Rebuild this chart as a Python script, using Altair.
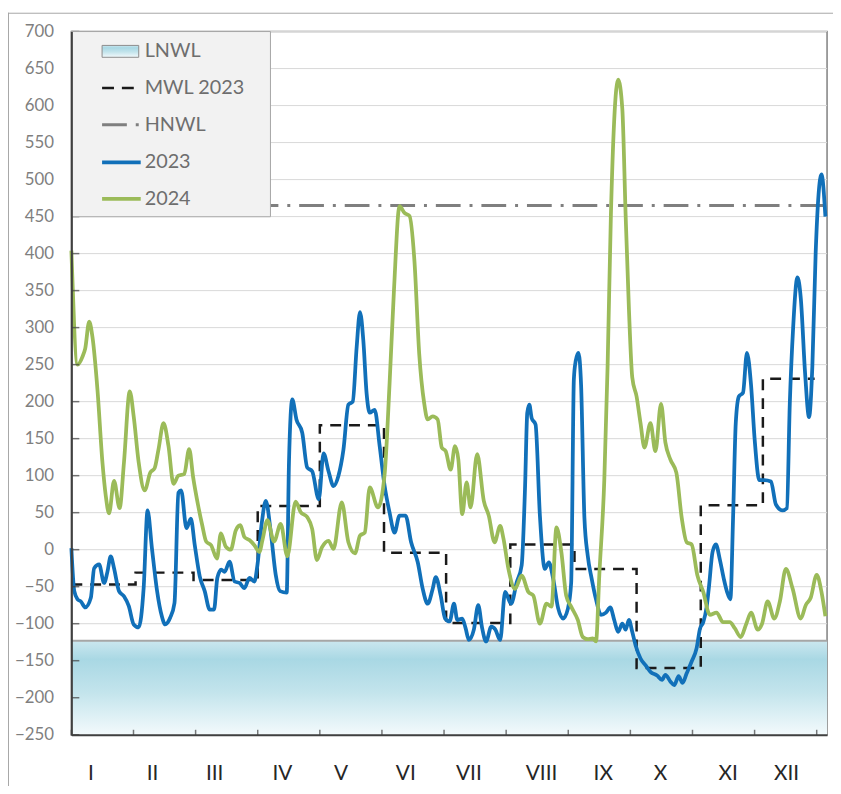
import altair as alt
import pandas as pd

# ---------------- data ----------------
days_2023 = [0, 1.4, 3, 4.6, 6.7, 9.4, 11, 13.4, 15.8, 17.4, 19, 20.6, 23, 25.4, 27.7, 30.1, 32.5, 34.9,
             36.8, 38.9, 41.3, 43.7, 45.3, 47.7, 49.8, 51.7, 53, 55.6, 57.7, 59.6, 62, 64.4, 66.8, 68.9,
             70.5, 72.4, 74, 76.4, 78.8, 81.2, 83.6, 86, 88.4, 89.9, 92, 93.9, 96.3, 98.7, 100.8, 104,
             105.1, 106.7, 108.7, 111.5, 113.9, 116.3, 119.5, 121.8, 124.2, 126.6, 129, 131.4, 133.8,
             135.9, 137.8, 139.4, 141, 142.6, 144.1, 146.5, 148.9, 151.3, 153.7, 156.1, 158.5, 161.4,
             164.1, 167.3, 169.7, 172.1, 174.5, 176, 178.4, 180.5, 182.7, 184.8, 186.4, 188.8, 190.4,
             192, 194.4, 196.5, 198.4, 200.3, 202.8, 204.8, 207.1, 209.5, 212.4, 215.1, 217.5, 219.1,
             220.2, 221.2, 222.3, 224.2, 226.3, 228.7, 230.6, 232.7, 235.1, 237.5, 239.8, 241.4, 242.7,
             243.6, 244.9, 246.2, 247.8, 249.4, 251.3, 253.4, 255.8, 258.2, 260.3, 262.2, 264.1, 266.1,
             267.7, 269.3, 270.9, 272.5, 274.9, 277.3, 279.7, 282.9, 285.3, 286.9, 289.3, 291.2, 293.3,
             295.2, 297.2, 299.6, 302, 303.6, 305.2, 306.8, 308, 309.7, 311.3, 313.2, 315.1, 316.7,
             318.3, 319.6, 320.9, 322.4, 324.4, 326.3, 328.3, 330, 332.3, 334.7, 337.9, 340.3, 343.5,
             345.6, 347, 348.6, 350.7, 352.3, 354.4, 356.3, 357.9, 359.5, 362.3, 364.2]
vals_2023 = [2, -56, -67, -70, -78, -65, -25, -20, -45, -30, -9, -25, -56, -63, -76, -101, -105, -52,
             53, 2, -54, -90, -101, -92, -72, 77, 80, 29, 42, 6, -36, -56, -81, -81,
             -38, -27, -30, -16, -43, -45, -52, -38, -43, -20, 37, 66, 24, -34, -56, -58,
             118, 203, 176, 158, 111, 106, 68, 130, 106, 86, 100, 135, 196,
             200, 274, 321, 283, 211, 185, 189, 140, 86, 50, 23, 46, 46,
             10, -17, -53, -73, -53, -37, -62, -93, -97, -73, -95, -93, -106,
             -122, -108, -75, -106, -124, -104, -108, -122, -57, -73, -44, -21, 82,
             185, 196, 178, 169, 46, -26, -17, -39, -79, -93, -80, -45, 230,
             255, 266, 222, 43, -8, -39, -67, -88, -85, -78, -95, -111, -100,
             -108, -95, -111, -129, -147, -156, -165, -170, -176, -169, -178, -183, -171,
             -180, -167, -151, -133, -107, -98, -78, -49, -3, 7, -13, -39, -57,
             -67, 43, 171, 207, 212, 266, 222, 150, 94, 94, 92, 61, 53,
             56, 197, 299, 368, 340, 238, 179, 248, 401, 507, 450]

days_2024 = [0, 3, 5.4, 6.7, 8.6, 10.2, 12.6, 15, 16.6, 18.2, 20.6, 23.3, 25.4, 28.2, 30.1, 32.5, 35.4,
             38.1, 40.2, 42.1, 44.5, 46.9, 49.3, 51.7, 54.5, 56.9, 58.8, 61.2, 63.2, 65.1, 67.5, 70.3,
             72.2, 74.6, 77, 79.4, 81.6, 83.6, 86, 88.4, 90.8, 92.3, 94.7, 97.9, 101.1, 104.3, 108.3,
             110.7, 113.9, 116.3, 118.6, 121, 124.2, 126.6, 130.6, 133.8, 137, 139.4, 141.7, 144.1,
             148.1, 151.3, 153.7, 155.8, 158.5, 160.9, 163.3, 165.7, 168, 170.4, 172.1, 174.5, 176.9,
             178.9, 180.8, 183.2, 185.3, 186.9, 188.8, 190.9, 192.8, 196, 199.2, 201.6, 204.4, 207.1,
             208.7, 211.1, 214.3, 217.5, 220.7, 223.1, 226.3, 229.5, 231.9, 234.3, 236.7, 239, 241.4,
             244.6, 247, 249.4, 251.8, 253.4, 255, 257.4, 259, 260.6, 262.2, 264.1, 266.1, 267.7,
             269.3, 270.9, 273, 274.9, 276.8, 279.7, 282.1, 284.8, 286.9, 289.3, 292.2, 294.8, 297.2,
             299.6, 302.3, 305.2, 308.4, 311.6, 314.8, 318, 320.4, 323.3, 326, 328.3, 331.5, 333.6,
             336.3, 339.5, 342.2, 345.1, 348.3, 352.3, 354.7, 357.1, 360, 362.3, 364.2]
vals_2024 = [404, 250, 261, 272, 308, 287, 216, 118, 73, 49, 93, 56, 118, 214, 180, 118, 80,
             104, 110, 136, 171, 140, 89, 100, 102, 136, 98, 60, 33, 11, 6, -12,
             22, 4, 0, 26, 33, 17, 13, 6, -3, 13, 40, 11, 35, -9, 65,
             51, 44, 28, -14, 3, 12, 1, 64, 10, -5, 19, 23, 84,
             57, 102, 225, 350, 464, 455, 451, 390, 265, 198, 176, 180, 176,
             138, 133, 108, 140, 122, 48, 91, 57, 129, 66, 46, 10, 32,
             15, -26, -53, -35, -57, -62, -100, -73, -77, 30, -4, -62, -77,
             -95, -118, -121, -120, -124, -34, 94, 248, 453, 581, 635, 596, 453,
             325, 233, 207, 171, 138, 171, 133, 197, 145, 122, 104, 43, 10,
             7, -34, -57, -88, -85, -98, -98, -106, -118, -100, -85, -108, -100,
             -70, -93, -70, -26, -52, -93, -75, -65, -34, -57, -90]

mwl_days = [0, 31, 59, 90, 120, 151, 181, 212, 243, 273, 304, 334, 359]
mwl_2023 = [-47, -31, -41, 59, 168, -4, -99, 7, -26, -160, 60, 231, 231]

hnwl = 465
lnwl = -123
y_bottom = -250
y_top = 700
x_end = 365

month_labels = ["I", "II", "III", "IV", "V", "VI", "VII", "VIII", "IX", "X", "XI", "XII"]
month_label_pos = [9.4, 39.2, 69.2, 101.9, 130.3, 161.5, 192, 227.1, 256.9, 284.5, 317.2, 345.4]

y_ticks = list(range(-250, 701, 50))
x_ticks = list(range(0, 361, 30))

legend_names = ["LNWL", "MWL 2023", "HNWL", "2023", "2024"]

# ---------------- styling ----------------
W, H = 763, 710
FONT = "Lato"
BLUE = "#1170b9"
GREEN = "#9bbb59"

x_scale = alt.Scale(domain=[0, x_end], nice=False, zero=False)
y_scale = alt.Scale(domain=[y_bottom, y_top], nice=False, zero=False)

x_axis = alt.Axis(values=x_ticks, labels=False, ticks=False, grid=False, title=None,
                  domainColor="#404040", domainWidth=2, zindex=1)
y_axis = alt.Axis(values=y_ticks, ticks=False, grid=False, title=None,
                  domainColor="#404040", domainWidth=2, zindex=1,
                  labelFont=FONT, labelFontSize=17, labelColor="#7f7f7f", labelPadding=18)

gradient = alt.Gradient(
    gradient="linear",
    stops=[alt.GradientStop(color="#cbe7ef", offset=0),
           alt.GradientStop(color="#a9d8e4", offset=0.2),
           alt.GradientStop(color="#c3e4ec", offset=0.55),
           alt.GradientStop(color="#f3fafc", offset=1)],
    x1=0, x2=0, y1=0, y2=1)

df23 = pd.DataFrame({"d": days_2023, "v": vals_2023})
df24 = pd.DataFrame({"d": days_2024, "v": vals_2024})
dfm = pd.DataFrame({"d": mwl_days, "v": mwl_2023})
dfgrid = pd.DataFrame({"v": y_ticks})
dfxt = pd.DataFrame({"d": x_ticks})
dfband = pd.DataFrame({"d": [0], "d2": [x_end], "v": [y_bottom], "v2": [lnwl]})
dfl = pd.DataFrame({"d": [0], "d2": [x_end], "v": [lnwl]})
dfh = pd.DataFrame({"d": [0], "d2": [x_end], "v": [hnwl]})
dfmonths = pd.DataFrame({"d": month_label_pos, "label": month_labels})
one = pd.DataFrame({"k": [0]})


def X(f="d"):
    return alt.X(f"{f}:Q", scale=x_scale, axis=x_axis)


def Y(f="v"):
    return alt.Y(f"{f}:Q", scale=y_scale, axis=y_axis)


grid = alt.Chart(dfgrid).mark_rule(color="#d9d9d9", strokeWidth=1).encode(
    y=Y(), x=alt.value(0), x2=alt.value(W))

band = alt.Chart(dfband).mark_rect(color=gradient).encode(x=X(), x2="d2:Q", y=Y(), y2="v2:Q")
band_edge = alt.Chart(dfl).mark_rule(color="#a6a6a6", strokeWidth=2).encode(x=X(), x2="d2:Q", y=Y())

mwl = alt.Chart(dfm).mark_line(color="#1a1a1a", strokeWidth=2.5, strokeDash=[11, 8],
                               interpolate="step-after").encode(x=X(), y=Y())
hn = alt.Chart(dfh).mark_rule(color="#7f7f7f", strokeWidth=3, strokeDash=[25, 9, 3, 9]).encode(
    x=X(), x2="d2:Q", y=Y())

line23 = alt.Chart(df23).mark_line(color=BLUE, strokeWidth=3.8, interpolate="monotone").encode(x=X(), y=Y())
line24 = alt.Chart(df24).mark_line(color=GREEN, strokeWidth=3.8, interpolate="monotone").encode(x=X(), y=Y())

yt = alt.Chart(dfgrid).mark_tick(orient="horizontal", size=8, thickness=1.5, color="#404040").encode(
    y=Y(), x=alt.value(4))
xt = alt.Chart(dfxt).mark_tick(orient="vertical", size=6, thickness=1.5, color="#404040").encode(
    x=X(), y=alt.value(H - 2))

months = alt.Chart(dfmonths).mark_text(
    font=FONT, fontSize=21, color="#262626", baseline="middle", align="center").encode(
    x=X(), y=alt.value(H + 40), text="label:N")

# ---------------- legend ----------------
leg_box = alt.Chart(one).mark_rect(fill="#f2f2f2", stroke="#a6a6a6", strokeWidth=1).encode(
    x=alt.value(0), x2=alt.value(201), y=alt.value(0), y2=alt.value(187))
row_y = [20, 57, 94, 132, 169]
leg_sw = alt.Chart(one).mark_rect(color=gradient, stroke="#8c8c8c", strokeWidth=1).encode(
    x=alt.value(31), x2=alt.value(68), y=alt.value(row_y[0] - 6), y2=alt.value(row_y[0] + 6))
leg_mwl = alt.Chart(one).mark_rule(color="#1a1a1a", strokeWidth=2.5, strokeDash=[12, 8]).encode(
    x=alt.value(31), x2=alt.value(66), y=alt.value(row_y[1]))
leg_hn = alt.Chart(one).mark_rule(color="#7f7f7f", strokeWidth=3, strokeDash=[25, 9, 3, 9]).encode(
    x=alt.value(31), x2=alt.value(68), y=alt.value(row_y[2]))
leg_23 = alt.Chart(one).mark_rule(color=BLUE, strokeWidth=3.8).encode(
    x=alt.value(31), x2=alt.value(70), y=alt.value(row_y[3]))
leg_24 = alt.Chart(one).mark_rule(color=GREEN, strokeWidth=3.8).encode(
    x=alt.value(31), x2=alt.value(70), y=alt.value(row_y[4]))
leg_txt = alt.Chart(pd.DataFrame({"name": legend_names, "ly": row_y})).mark_text(
    font=FONT, fontSize=20, color="#6e6e6e", align="left", baseline="middle").encode(
    x=alt.value(74), y=alt.Y("ly:Q", scale=None), text="name:N")

# outer frame
frame_l = alt.Chart(one).mark_rule(color="#a6a6a6", strokeWidth=1).encode(
    x=alt.value(-63.5), y=alt.value(-19), y2=alt.value(H + 60))
frame_t = alt.Chart(one).mark_rule(color="#a6a6a6", strokeWidth=1).encode(
    x=alt.value(-64), x2=alt.value(W + 10), y=alt.value(-18.5))

chart = alt.layer(
    grid, band, band_edge, mwl, hn, line23, line24, yt, xt, months,
    leg_box, leg_sw, leg_mwl, leg_hn, leg_23, leg_24, leg_txt, frame_l, frame_t
).properties(
    width=W, height=H,
    autosize=alt.AutoSizeParams(type="none"),
    padding={"left": 64, "top": 20, "right": 6, "bottom": 48},
).configure_view(stroke="#808080", strokeWidth=1.5)

chart.save("out.html", embed_options={"renderer": "svg", "actions": False})
